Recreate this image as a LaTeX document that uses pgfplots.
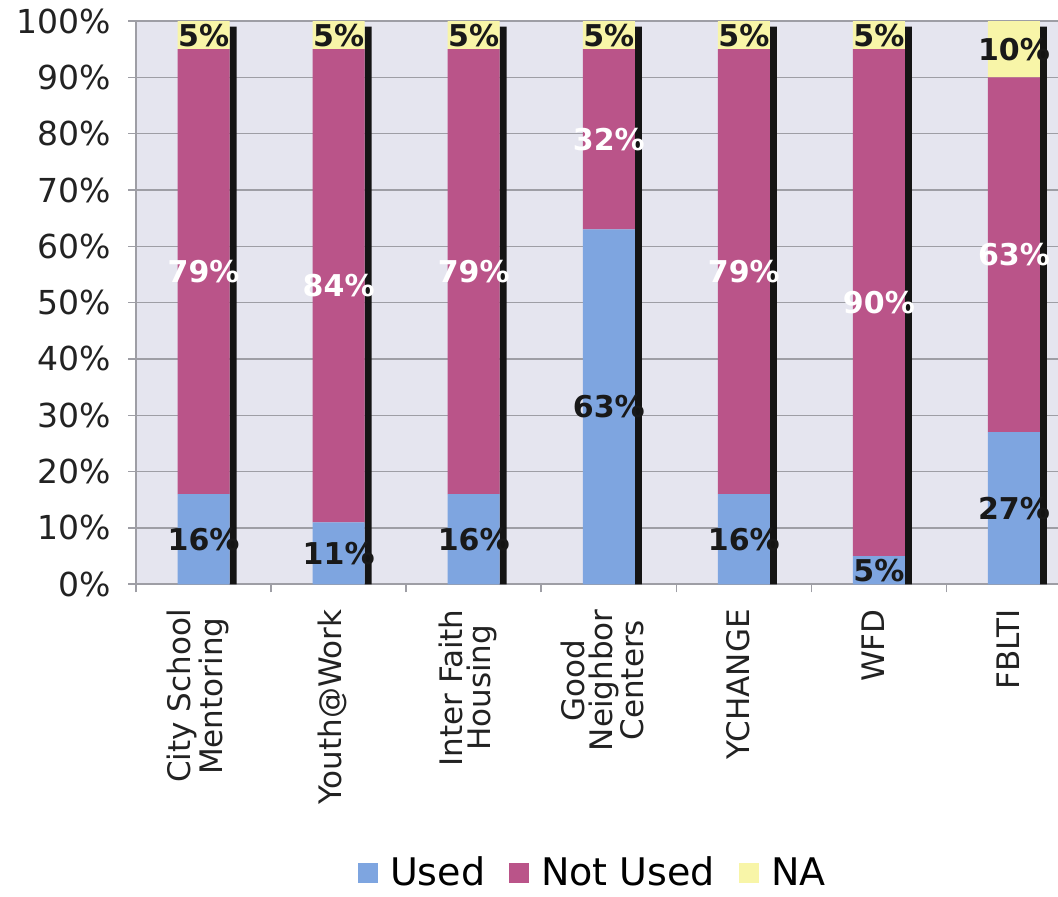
\documentclass[border=0pt]{standalone}
\usepackage{pgfplots}
\pgfplotsset{compat=1.18}
\usepackage{pgfplotstable}
\usepackage{fontspec}
\setmainfont{DejaVu Sans}

\definecolor{usedc}{RGB}{126,165,224}
\definecolor{notusedc}{RGB}{186,84,137}
\definecolor{nac}{RGB}{248,245,168}
\definecolor{plotbg}{RGB}{229,229,239}
\definecolor{gridc}{RGB}{158,158,165}
\definecolor{txt}{RGB}{34,34,34}

% share of respondents per programme (percent)
\pgfplotstableread{
x used notused na
0 16 79 5
1 11 84 5
2 16 79 5
3 63 32 5
4 16 79 5
5 5  90 5
6 27 63 10
}\usage

\pgfplotsset{
  chartframe/.style={
    scale only axis, width=460.75pt, height=281.5pt,
    xmin=-0.5, xmax=6.326, ymin=0, ymax=100,
    at={(0,0)}, anchor=south west,
  },
  barlabel/.style={
    draw=none, mark=none,
    nodes near coords={\pgfplotspointmeta\%},
    point meta=explicit symbolic,
    every node near coord/.append style={anchor=center, inner sep=0pt,
      font=\fontsize{15}{17}\selectfont\bfseries, text=#1},
  },
}

\begin{document}
\begin{tikzpicture}
% frame, grid, ticks and the dark side faces of the bars
\begin{axis}[chartframe,
  axis background/.style={fill=plotbg},
  axis x line*=bottom, axis y line*=left,
  axis line style={gridc, line width=0.9pt},
  ymajorgrids, grid style={gridc, line width=0.6pt},
  tick align=outside, major tick length=4pt,
  tick style={gridc, line width=0.8pt},
  ytick={0,10,...,100},
  yticklabel={\pgfmathprintnumber{\tick}\%},
  yticklabel style={font=\fontsize{16.5}{19}\selectfont, text=txt, xshift=-5pt},
  /pgf/number format/assume math mode=true,
  xtick={-0.5,0.5,...,5.5},
  xticklabels={},
  extra x ticks={0,1,2,3,4,5,6},
  extra x tick labels={{City School\\Mentoring},Youth@Work,{Inter Faith\\Housing},{Good\\Neighbor\\Centers},YCHANGE,WFD,FBLTI},
  extra x tick style={major tick length=0pt, grid=none,
    xticklabel style={font=\fontsize{15.5}{13.8}\selectfont, text=txt,
      align=center, rotate=90, anchor=east, xshift=-9pt, yshift=3pt}},
]
\addplot[ybar, bar width=3.5pt, bar shift=14.75pt, fill=black!92, draw=none]
  table[x=x, y expr=\thisrow{used}+\thisrow{notused}+\thisrow{na}-1] {\usage};
\end{axis}

% stacked bars
\begin{axis}[chartframe, hide axis, ybar stacked, bar width=26pt,
  legend style={at={(0.4965,-0.512)}, anchor=center, draw=none, fill=none,
    legend columns=3, font=\fontsize{19}{22}\selectfont, text=black,
    nodes={inner ysep=1pt},
    /tikz/every odd column/.append style={column sep=4pt},
    /tikz/every even column/.append style={column sep=10pt}},
  legend cell align=left,
]
\addplot[fill=usedc, draw=none,
  legend image code/.code={\fill[usedc] (0pt,-5pt) rectangle (10pt,5pt);}]
  table[x=x, y=used] {\usage};
\addplot[fill=notusedc, draw=none,
  legend image code/.code={\fill[notusedc] (0pt,-5pt) rectangle (10pt,5pt);}]
  table[x=x, y=notused] {\usage};
\addplot[fill=nac, draw=none,
  legend image code/.code={\fill[nac] (0pt,-5pt) rectangle (10pt,5pt);}]
  table[x=x, y=na] {\usage};
\legend{Used, Not Used, NA}
\end{axis}

% value labels in the middle of each segment
\begin{axis}[chartframe, hide axis]
\addplot[barlabel=black!90]
  table[x=x, y expr=\thisrow{used}/2, meta=used] {\usage};
\addplot[barlabel=white]
  table[x=x, y expr=\thisrow{used}+\thisrow{notused}/2, meta=notused] {\usage};
\addplot[barlabel=black!90]
  table[x=x, y expr=\thisrow{used}+\thisrow{notused}+\thisrow{na}/2, meta=na] {\usage};
\end{axis}

\pgfresetboundingbox
\path[use as bounding box] (-68pt,-156pt) rectangle (460.75pt,292pt);
\end{tikzpicture}
\end{document}
